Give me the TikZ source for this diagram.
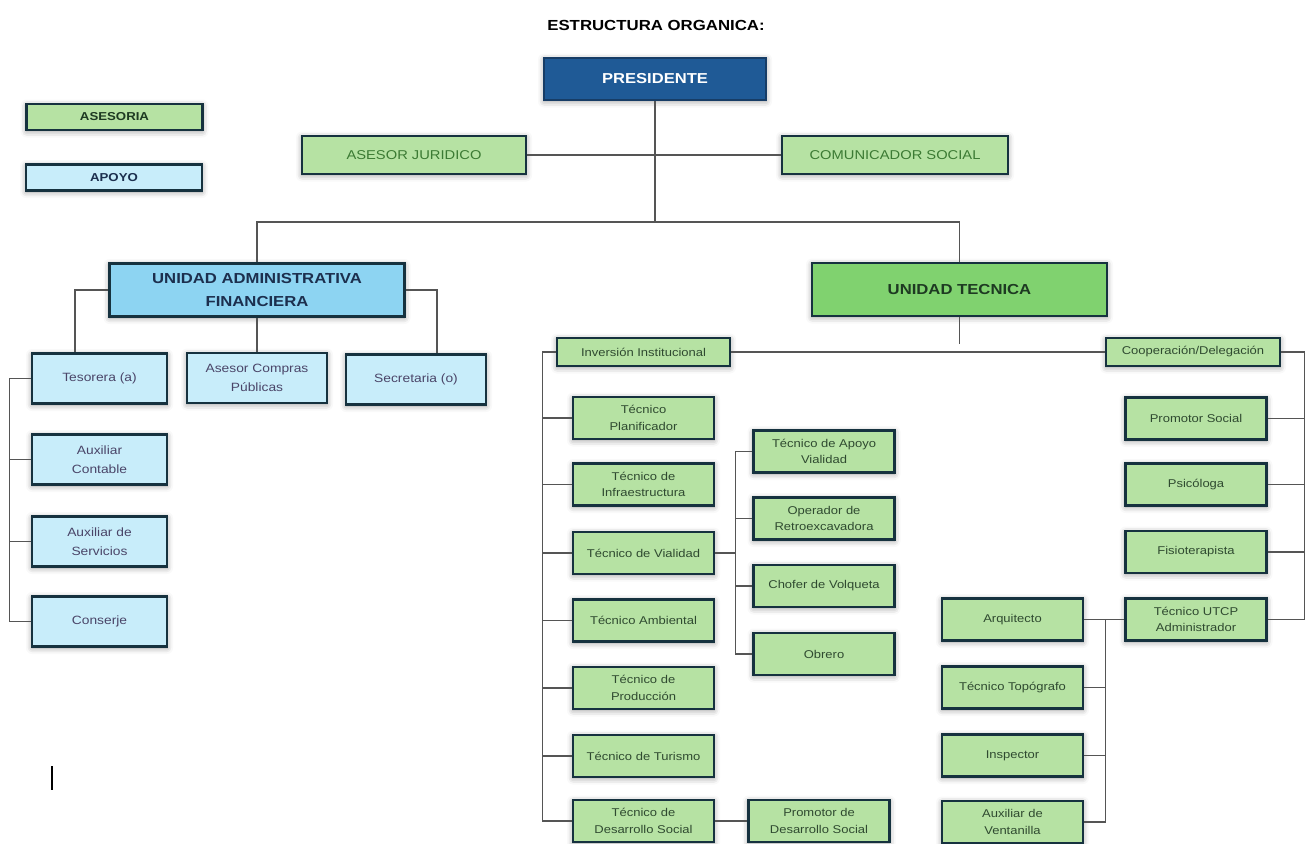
\documentclass[tikz,border=0pt]{standalone}
\usepackage{fontspec}
\setmainfont{Liberation Sans}[FakeStretch=1.15]
\usetikzlibrary{shadows.blur}
\definecolor{edge}{HTML}{16323F}
\definecolor{pblue}{HTML}{1F5A96}
\definecolor{pedge}{HTML}{173D66}
\definecolor{lgreen}{HTML}{B6E2A3}
\definecolor{ugreen}{HTML}{80D26F}
\definecolor{lblue}{HTML}{C8EDFA}
\definecolor{ublue}{HTML}{8DD4F2}
\definecolor{atext}{HTML}{3B7A33}
\definecolor{gtext}{HTML}{2F4A30}
\definecolor{btext}{HTML}{4A4568}
\definecolor{ltxt}{HTML}{1E3A22}
\definecolor{utxt}{HTML}{1C2F4E}
\definecolor{lnk}{HTML}{555555}
\begin{document}
\begin{tikzpicture}[x=1pt, y=-1pt,
    box/.style={draw=edge, line width=2.8pt, align=center, inner sep=2pt,
      blur shadow={shadow xshift=0pt, shadow yshift=-1.5pt, shadow blur radius=6pt, shadow opacity=40}},
    leg/.style={box, minimum width=176, minimum height=26, font=\bfseries\fontsize{11.5}{14}\selectfont},
    ase/.style={box, fill=lgreen, text=atext, minimum width=224, minimum height=38, font=\fontsize{12.8}{15}\selectfont},
    head/.style={box, minimum width=295, minimum height=53, font=\bfseries\fontsize{14.5}{22.5}\selectfont},
    apo/.style={box, fill=lblue, text=btext, minimum width=135, minimum height=50, font=\fontsize{12}{19}\selectfont},
    tec/.style={box, fill=lgreen, text=gtext, minimum width=141, minimum height=42, font=\fontsize{11.3}{16.5}\selectfont},
    link/.style={draw=lnk, line width=1.2pt}]
  \useasboundingbox (0,0) rectangle (1313,843);
  \node[font=\bfseries\fontsize{14.6}{17}\selectfont] (ttl) at (656,25) {ESTRUCTURA ORGANICA:};
  \node[box, fill=pblue, draw=pedge, text=white, minimum width=222, minimum height=42, font=\bfseries\fontsize{14.4}{17}\selectfont] (pres) at (655,79) {PRESIDENTE};
  \node[leg, fill=lgreen, text=ltxt] (lg1) at (114.5,117) {ASESORIA};
  \node[leg, fill=lblue, text=utxt] (lg2) at (114,177.5) {APOYO};
  \node[ase] (asj) at (414,155) {ASESOR JURIDICO};
  \node[ase, minimum width=226] (com) at (895,155) {COMUNICADOR SOCIAL};
  \node[head, fill=ublue, text=utxt] (uaf) at (257,290) {UNIDAD ADMINISTRATIVA\\FINANCIERA};
  \node[head, fill=ugreen, text=ltxt] (ut) at (959.5,289.5) {UNIDAD TECNICA};
  \node[apo] (tes) at (99.5,378.5) {Tesorera (a)};
  \node[apo, minimum width=140] (acp) at (257,378) {Asesor Compras\\Públicas};
  \node[apo, minimum width=140] (sec) at (416,379.5) {Secretaria (o)};
  \node[apo] (ax1) at (99.5,459.5) {Auxiliar\\Contable};
  \node[apo] (ax2) at (99.5,541.5) {Auxiliar de\\Servicios};
  \node[apo] (cons) at (99.5,621.5) {Conserje};
  \node[tec, minimum width=173, minimum height=28] (inv) at (643.5,352) {Inversión Institucional};
  \node[tec, minimum width=174, minimum height=28] (coop) at (1193,352) {Cooperación/Delegación};
  \node[tec] (t1) at (643.5,418) {Técnico\\Planificador};
  \node[tec] (t2) at (643.5,484.5) {Técnico de\\Infraestructura};
  \node[tec] (t3) at (643.5,553) {Técnico de Vialidad};
  \node[tec] (t4) at (643.5,620.5) {Técnico Ambiental};
  \node[tec] (t5) at (643.5,688) {Técnico de\\Producción};
  \node[tec] (t6) at (643.5,756) {Técnico de Turismo};
  \node[tec] (t7) at (643.5,821) {Técnico de\\Desarrollo Social};
  \node[tec] (v1) at (824,451.5) {Técnico de Apoyo\\Vialidad};
  \node[tec] (v2) at (824,518.5) {Operador de\\Retroexcavadora};
  \node[tec] (v3) at (824,586) {Chofer de Volqueta};
  \node[tec] (v4) at (824,654) {Obrero};
  \node[tec] (pds) at (819,821) {Promotor de\\Desarrollo Social};
  \node[tec] (s1) at (1196,418.5) {Promotor Social};
  \node[tec] (s2) at (1196,484.5) {Psicóloga};
  \node[tec] (s3) at (1196,552) {Fisioterapista};
  \node[tec] (s4) at (1196,619.5) {Técnico UTCP\\Administrador};
  \node[tec] (a1) at (1012.5,619.5) {Arquitecto};
  \node[tec] (a2) at (1012.5,687.5) {Técnico Topógrafo};
  \node[tec] (a3) at (1012.5,755.5) {Inspector};
  \node[tec] (a4) at (1012.5,822) {Auxiliar de\\Ventanilla};
  \coordinate (hub) at (655,222);
  \coordinate (utend) at (959.5,344);
  \draw[link] (pres.south) -- (hub);
  \draw[link] (uaf.north) |- (hub) -| (ut.north);
  \draw[link] (asj) -- (com);
  \draw[link] (uaf.west) -| ([xshift=-24.5pt]tes.north);
  \draw[link] (uaf.east) -| ([xshift=21pt]sec.north);
  \draw[link] (uaf) -- (acp);
  \draw[link] (tes.west) -- ++(-21,0) |- (cons.west);
  \draw[link] (ax1.west) -- ++(-21,0);
  \draw[link] (ax2.west) -- ++(-21,0);
  \draw[link] (ut) -- (utend);
  \draw[link] (inv) -- (coop);
  \draw[link] (inv.west) -- ++(-13,0) |- (t7.west);
  \draw[link] (t1.west) -- ++(-29,0);
  \draw[link] (t2.west) -- ++(-29,0);
  \draw[link] (t3.west) -- ++(-29,0);
  \draw[link] (t4.west) -- ++(-29,0);
  \draw[link] (t5.west) -- ++(-29,0);
  \draw[link] (t6.west) -- ++(-29,0);
  \draw[link] (t3.east) -- ++(20,0);
  \draw[link] (v1.west) -- ++(-17,0) |- (v4.west);
  \draw[link] (v2.west) -- ++(-17,0);
  \draw[link] (v3.west) -- ++(-17,0);
  \draw[link] (t7) -- (pds);
  \draw[link] (coop.east) -- ++(23,0) |- (s4.east);
  \draw[link] (s1.east) -- ++(37,0);
  \draw[link] (s2.east) -- ++(37,0);
  \draw[link] (s3.east) -- ++(37,0);
  \draw[link] (a1) -- (s4);
  \draw[link] (a1.east) ++(21,0) |- (a4.east);
  \draw[link] (a2.east) -- ++(21,0);
  \draw[link] (a3.east) -- ++(21,0);
  \draw[line width=1.2pt] (52,766) -- (52,790);
\end{tikzpicture}
\end{document}
